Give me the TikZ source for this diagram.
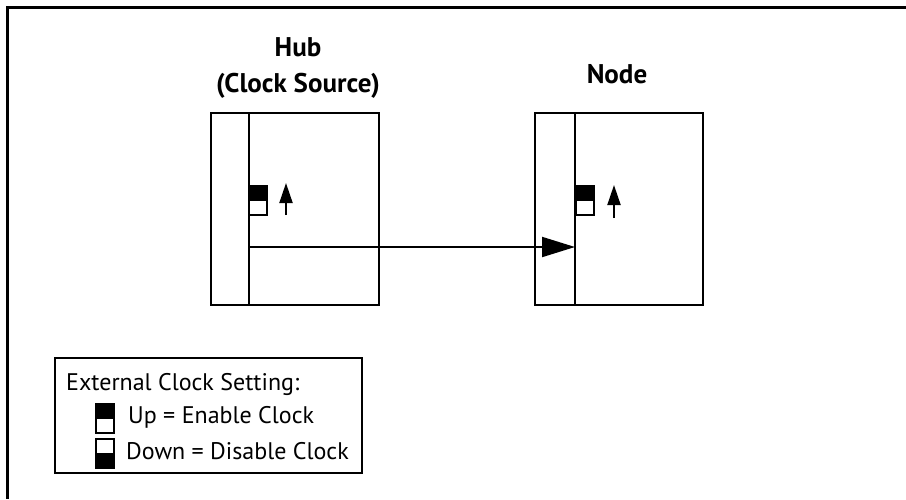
\documentclass[tikz,border=0pt]{standalone}
\usepackage{fontspec}
\setmainfont{PT Sans}
\usetikzlibrary{arrows.meta}

\tikzset{
  frame/.style={line width=3pt},
  board/.style={draw, line width=2.5pt, minimum width=168pt, minimum height=192pt, inner sep=0pt},
  divider/.style={line width=2.5pt},
  switchup/.style={draw, line width=2pt, minimum width=18pt, minimum height=29pt, inner sep=0pt,
    path picture={\fill (path picture bounding box.north west) rectangle (path picture bounding box.east);}},
  switchdown/.style={draw, line width=2pt, minimum width=18pt, minimum height=29pt, inner sep=0pt,
    path picture={\fill (path picture bounding box.south west) rectangle (path picture bounding box.east);}},
  uparrow/.style={line width=2pt, -{Triangle[length=20pt,width=13pt]}},
  flow/.style={line width=2pt, -{Triangle[length=33pt,width=20pt]}},
  title/.style={font=\fontsize{27}{32}\selectfont\bfseries, inner sep=0pt, anchor=base},
  legendtext/.style={font=\fontsize{24}{29}\selectfont, inner sep=0pt, anchor=base west},
}

\begin{document}
\begin{tikzpicture}[x=1pt, y=-1pt]
\useasboundingbox (0,0) rectangle (906,499);
% outer frame
\draw[frame] (906,7) -- (7,7) -- (7,499);
% titles
\node[title] (hubtitle) at (298,56) {Hub};
\node[title] (hubsub) at (298,92) {(Clock Source)};
\node[title] (nodetitle) at (617,83) {Node};
% boards
\node[board] (hubbox) at (295,209) {};
\node[board] (nodebox) at (619,209) {};
\draw[divider] (249,113) -- (249,305);
\draw[divider] (575,113) -- (575,305);
% clock switches
\node[switchup] (hubsw) at (258,200.5) {};
\node[switchup] (nodesw) at (584.5,200.5) {};
\coordinate (hubtail) at (286,215);
\coordinate (hubtip) at (286,183);
\draw[uparrow] (hubtail) -- (hubtip);
\coordinate (nodetail) at (614,218);
\coordinate (nodetip) at (614,185);
\draw[uparrow] (nodetail) -- (nodetip);
% clock line
\coordinate (hubout) at (249,247);
\coordinate (nodein) at (575,247);
\draw[flow] (hubout) -- (nodein);
% legend
\node[draw, line width=2.5pt, minimum width=307pt, minimum height=115pt, inner sep=0pt] (legend) at (208.5,415.5) {};
\node[legendtext] (legendhead) at (66,390) {External Clock Setting:};
\node[switchup] (upkey) at (104.5,418.5) {};
\node[legendtext] (uptext) at (128,423) {Up = Enable Clock};
\node[switchdown] (downkey) at (104.5,453) {};
\node[legendtext] (downtext) at (126,459) {Down = Disable Clock};
\end{tikzpicture}
\end{document}
